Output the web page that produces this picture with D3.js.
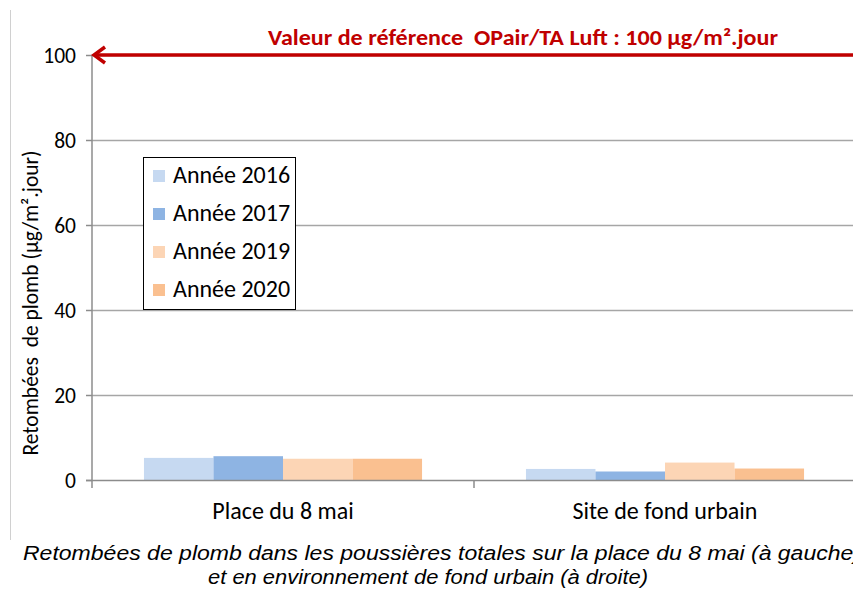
<!DOCTYPE html>
<html><head><meta charset="utf-8">
<script src="https://cdn.jsdelivr.net/npm/d3@7"></script>
<style>body{margin:0;background:#fff}svg{display:block}text{white-space:pre}</style>
</head><body><svg id="c" width="853" height="589"></svg>
<script>
const categories = ["Place du 8 mai", "Site de fond urbain"];
const seriesNames = ["Année 2016", "Année 2017", "Année 2019", "Année 2020"];
const seriesColors = ["#C6D9F1", "#8EB4E3", "#FCD5B5", "#FAC090"];
const values2016 = [5.2, 2.6];
const values2017 = [5.6, 2.0];
const values2019 = [5.0, 4.1];
const values2020 = [5.0, 2.7];
const yTicks = [0, 20, 40, 60, 80, 100];
const referenceValue = 100;
const referenceLabel = "Valeur de référence  OPair/TA Luft : 100 µg/m².jour";
const yTitle = "Retombées  de plomb (µg/m².jour)";
const captionLines = ["Retombées de plomb dans les poussières totales sur la place du 8 mai (à gauche)", "et en environnement de fond urbain (à droite)"];

(function () {
const series = [values2016, values2017, values2019, values2020];
const svg = d3.select("#c");
const mLeft = 92, mRight = 856, mTop = 55, mBottom = 480;
const y = d3.scaleLinear().domain([0, 100]).range([mBottom, mTop]);
const x0 = d3.scaleBand().domain(categories).range([mLeft, mRight]).paddingInner(0.272).paddingOuter(0.136);
const x1 = d3.scaleBand().domain(d3.range(series.length)).range([0, x0.bandwidth()]);
const font = "Carlito, 'Liberation Sans Narrow', 'Open Sans', sans-serif";

svg.append("line").attr("x1", 10.5).attr("x2", 10.5).attr("y1", 10).attr("y2", 540).attr("stroke", "#d0d0d0");

svg.append("g").selectAll("line").data(yTicks.filter(d => d > 0)).join("line")
  .attr("x1", mLeft).attr("x2", 853).attr("y1", d => Math.round(y(d)) + 0.5).attr("y2", d => Math.round(y(d)) + 0.5)
  .attr("stroke", "#a6a6a6").attr("stroke-width", 1.5);

const g = svg.append("g");
categories.forEach((c, ci) => {
  series.forEach((s, si) => {
    g.append("rect").attr("x", x0(c) + x1(si)).attr("width", x1.bandwidth())
      .attr("y", y(s[ci])).attr("height", y(0) - y(s[ci])).attr("fill", seriesColors[si]);
  });
});

const ya = svg.append("g").attr("transform", `translate(${mLeft},0)`)
  .call(d3.axisLeft(y).tickValues(yTicks).tickSize(6).tickPadding(10));
ya.select(".domain").remove();
ya.append("line").attr("x1", 0).attr("x2", 0).attr("y1", mTop).attr("y2", mBottom + 8).attr("stroke", "#8c8c8c").attr("stroke-width", 1.5);
ya.selectAll(".tick line").attr("stroke", "#8c8c8c").attr("stroke-width", 1.5);
ya.selectAll(".tick text").attr("font-family", font).attr("font-size", 21.5).attr("fill", "#000").attr("dy", "0.34em");

svg.append("line").attr("x1", mLeft - 6).attr("x2", 853).attr("y1", mBottom + 0.5).attr("y2", mBottom + 0.5).attr("stroke", "#8c8c8c").attr("stroke-width", 1.5);
svg.append("g").selectAll("line").data([mLeft + x0.step()]).join("line")
  .attr("x1", d => d).attr("x2", d => d).attr("y1", mBottom).attr("y2", mBottom + 8).attr("stroke", "#8c8c8c").attr("stroke-width", 1.5);
svg.append("g").selectAll("text").data(categories).join("text")
  .attr("x", d => x0(d) + x0.bandwidth() / 2).attr("y", 519).attr("text-anchor", "middle")
  .attr("font-family", font).attr("font-size", 24).text(d => d);

svg.append("text").attr("transform", "translate(38,303) rotate(-90)").attr("text-anchor", "middle")
  .attr("font-family", font).attr("font-size", 21.5).text(yTitle);

const ry = y(referenceValue);
svg.append("line").attr("x1", mLeft + 2).attr("x2", 853).attr("y1", ry).attr("y2", ry).attr("stroke", "#C00000").attr("stroke-width", 3.5);
svg.append("path").attr("d", `M${mLeft + 13},${ry - 8} L${mLeft + 2},${ry} L${mLeft + 13},${ry + 8}`)
  .attr("fill", "none").attr("stroke", "#C00000").attr("stroke-width", 3.5).attr("stroke-linejoin", "miter");
svg.append("text").attr("x", 268).attr("y", 45).attr("font-family", font).attr("font-weight", "bold")
  .attr("font-size", 22).attr("fill", "#C00000").attr("textLength", 510).attr("lengthAdjust", "spacingAndGlyphs")
  .text(referenceLabel);

const lg = svg.append("g").attr("transform", "translate(143.5,157.5)");
lg.append("rect").attr("width", 152).attr("height", 152).attr("fill", "#fff").attr("stroke", "#000").attr("stroke-width", 1);
seriesNames.forEach((n, i) => {
  const cy = 18.5 + i * 38;
  lg.append("rect").attr("x", 9.5).attr("y", cy - 6).attr("width", 12).attr("height", 12).attr("fill", seriesColors[i]);
  lg.append("text").attr("x", 29.5).attr("y", cy + 7).attr("font-family", font).attr("font-size", 24).text(n);
});

svg.append("g").selectAll("text").data(captionLines).join("text")
  .attr("x", (d, i) => i === 0 ? 23 : 428).attr("y", (d, i) => 560 + i * 24)
  .attr("text-anchor", (d, i) => i === 0 ? "start" : "middle")
  .attr("font-family", "'Liberation Sans Narrow', 'Liberation Sans', sans-serif").attr("font-style", "italic")
  .attr("font-size", 20.5).attr("textLength", (d, i) => i === 0 ? 838 : 440).attr("lengthAdjust", "spacingAndGlyphs")
  .text(d => d);
})();
</script></body></html>
